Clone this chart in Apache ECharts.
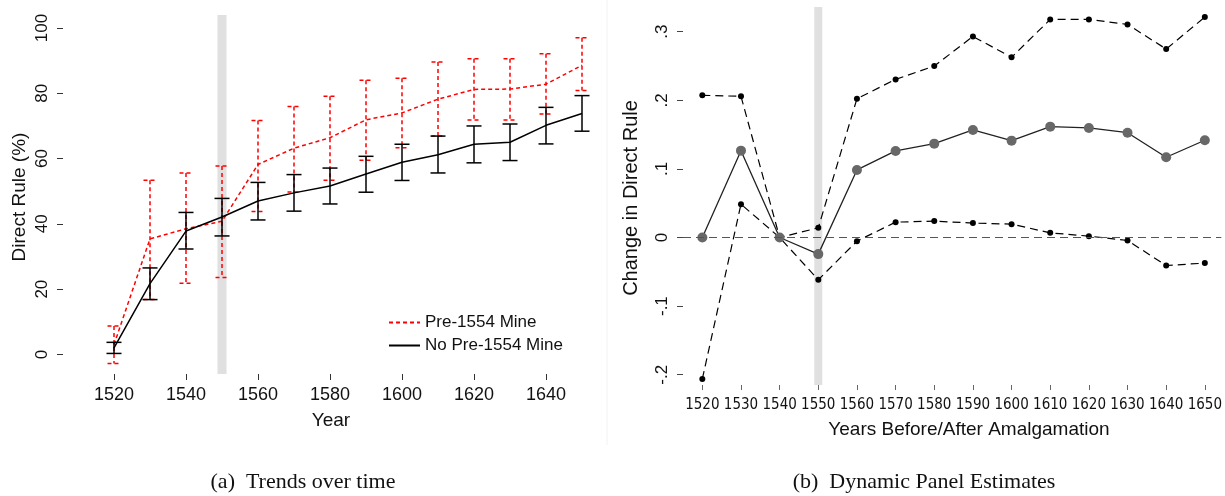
<!DOCTYPE html>
<html>
<head>
<meta charset="utf-8">
<script src="https://cdn.jsdelivr.net/npm/echarts@6/dist/echarts.min.js"></script>
<style>
  html, body { margin: 0; padding: 0; background: #fff; }
  #main { width: 1225px; height: 496px; }
</style>
</head>
<body>
<div id="main"></div>
<script>
// panel (a): trends over time
var years = [1520, 1530, 1540, 1550, 1560, 1570, 1580, 1590, 1600, 1610, 1620, 1630, 1640, 1650];
var mineMean = [3, 35.4, 38.5, 40.8, 58.2, 63.2, 66.4, 71.9, 74.0, 78.2, 81.2, 81.3, 82.8, 88.6];
var mineLow = [-2.8, 16.8, 21.8, 23.6, 43.8, 49.8, 53.4, 59.5, 63.3, 66.9, 71.8, 71.8, 73.7, 80.9];
var mineHigh = [8.7, 53.4, 55.6, 57.7, 71.7, 76.0, 79.1, 84.0, 84.6, 89.6, 90.6, 90.6, 92.1, 97.0];
var noMineMean = [2.0, 21.7, 37.8, 42.1, 47.0, 49.5, 51.6, 55.3, 58.9, 61.2, 64.4, 65.0, 70.2, 73.8];
var noMineLow = [0.3, 16.8, 32.3, 36.3, 41.2, 43.9, 46.1, 49.7, 53.3, 55.6, 58.7, 59.4, 64.5, 68.4];
var noMineHigh = [3.7, 26.5, 43.5, 47.8, 52.7, 55.1, 57.1, 60.7, 64.4, 66.9, 70.0, 70.6, 75.7, 79.3];
var leftYTicks = [0, 20, 40, 60, 80, 100];
var leftXTicks = [1520, 1540, 1560, 1580, 1600, 1620, 1640];

// panel (b): dynamic panel estimates
var estYears = [1520, 1530, 1540, 1550, 1560, 1570, 1580, 1590, 1600, 1610, 1620, 1630, 1640, 1650];
var estimate = [0, 0.1266, 0, -0.0242, 0.0985, 0.1262, 0.1368, 0.1568, 0.1412, 0.1616, 0.1597, 0.1528, 0.117, 0.1418];
var estUpper = [0.2073, 0.2058, 0, 0.0141, 0.2023, 0.2305, 0.2499, 0.2931, 0.2626, 0.3179, 0.3179, 0.3106, 0.2747, 0.3213];
var estLower = [-0.2062, 0.0486, 0, -0.0616, -0.0053, 0.0224, 0.0239, 0.021, 0.0195, 0.0068, 0.002, -0.0044, -0.0408, -0.0373];
var rightYTicks = [-0.2, -0.1, 0, 0.1, 0.2, 0.3];

var sans = "'Liberation Sans', Arial, sans-serif";
var narrow = "'Liberation Sans Narrow', 'DejaVu Sans Condensed', 'Liberation Sans', sans-serif";
var serif = "'Liberation Serif', 'DejaVu Serif', serif";

function errorBars(color, capW, dash) {
  return function (params, api) {
    var x = api.value(0);
    var top = api.coord([x, api.value(2)]);
    var bot = api.coord([x, api.value(1)]);
    var style = { stroke: color, lineWidth: 1.5, lineDash: dash, fill: null };
    var h = capW / 2;
    return {
      type: 'group',
      children: [
        { type: 'line', shape: { x1: top[0], y1: top[1], x2: bot[0], y2: bot[1] }, style: style },
        { type: 'line', shape: { x1: top[0] - h, y1: top[1], x2: top[0] + h, y2: top[1] }, style: style },
        { type: 'line', shape: { x1: bot[0] - h, y1: bot[1], x2: bot[0] + h, y2: bot[1] }, style: style }
      ]
    };
  };
}

function zip(xs, ys) {
  return xs.map(function (x, i) { return [x, ys[i]]; });
}

function plain(v) { return String(v); }

var chart = echarts.init(document.getElementById('main'));

var option = {
  animation: false,
  backgroundColor: '#fff',
  grid: [
    { left: 96, top: 15, width: 504, height: 359 },
    { left: 683, top: 7, width: 542, height: 378 }
  ],
  xAxis: [
    {
      gridIndex: 0, type: 'value', min: 1515, max: 1655,
      splitLine: { show: false },
      axisLine: { show: false, onZero: false },
      axisTick: { show: true, length: 6, customValues: leftXTicks, lineStyle: { color: '#333' } },
      axisLabel: { customValues: leftXTicks, formatter: plain, margin: 12, fontSize: 18, color: '#111', fontFamily: sans, hideOverlap: false }
    },
    {
      gridIndex: 1, type: 'value', min: 1515, max: 1654.26,
      splitLine: { show: false },
      axisLine: { show: false, onZero: false },
      axisTick: { show: true, length: 5, customValues: estYears, lineStyle: { color: '#666' } },
      axisLabel: { customValues: estYears, formatter: plain, margin: 13, fontSize: 15, color: '#111', fontFamily: narrow, hideOverlap: false }
    }
  ],
  yAxis: [
    {
      gridIndex: 0, type: 'value', min: -6, max: 104, offset: 33,
      splitLine: { show: false },
      axisLine: { show: false, onZero: false },
      axisTick: { show: true, length: 6, customValues: leftYTicks, lineStyle: { color: '#333' } },
      axisLabel: { customValues: leftYTicks, formatter: plain, rotate: 90, margin: 12, fontSize: 17, color: '#111', fontFamily: sans }
    },
    {
      gridIndex: 1, type: 'value', min: -0.215, max: 0.336,
      splitLine: { show: false },
      axisLine: { show: false, onZero: false },
      axisTick: { show: true, length: 6, customValues: rightYTicks, lineStyle: { color: '#444' } },
      axisLabel: {
        customValues: rightYTicks, rotate: 90, margin: 12, fontSize: 17, color: '#111', fontFamily: sans,
        formatter: function (v) {
          if (Math.abs(v) < 1e-9) return '0';
          return (v < 0 ? '-' : '') + '.' + Math.round(Math.abs(v) * 10);
        }
      }
    }
  ],
  legend: {
    show: true,
    orient: 'vertical', left: 383, top: 309, itemWidth: 31, itemHeight: 14, itemGap: 6,
    data: ['Pre-1554 Mine', 'No Pre-1554 Mine'],
    itemStyle: { opacity: 0 },
    textStyle: { fontSize: 17, color: '#111', fontFamily: sans }
  },
  graphic: [
    { type: 'line', shape: { x1: 607, y1: 0, x2: 607, y2: 445 }, style: { stroke: '#f2f2f2', lineWidth: 1 } },
    { type: 'text', x: 331, y: 421, style: { text: 'Year', font: '19px ' + sans, fill: '#111', align: 'center', verticalAlign: 'middle' } },
    { type: 'text', x: 20, y: 197, rotation: Math.PI / 2, style: { text: 'Direct Rule (%)', font: '19px ' + sans, fill: '#111', align: 'center', verticalAlign: 'middle' } },
    { type: 'text', x: 969, y: 430, style: { text: 'Years Before/After Amalgamation', font: '19px ' + sans, fill: '#111', align: 'center', verticalAlign: 'middle' } },
    { type: 'text', x: 631, y: 198, rotation: Math.PI / 2, style: { text: 'Change in Direct Rule', font: '20px ' + sans, fill: '#111', align: 'center', verticalAlign: 'middle' } },
    { type: 'text', x: 303, y: 482, style: { text: '(a)  Trends over time', font: '22px ' + serif, fill: '#111', align: 'center', verticalAlign: 'middle' } },
    { type: 'text', x: 924, y: 482, style: { text: '(b)  Dynamic Panel Estimates', font: '22px ' + serif, fill: '#111', align: 'center', verticalAlign: 'middle' } }
  ],
  series: [
    // gray band at 1550, left panel
    {
      name: 'band a', type: 'line', xAxisIndex: 0, yAxisIndex: 0, data: [], z: 1, silent: true,
      markArea: { silent: true, itemStyle: { color: '#e0e0e0' }, data: [[{ xAxis: 1548.75 }, { xAxis: 1551.25 }]] }
    },
    {
      name: 'Pre-1554 Mine bars', type: 'custom', xAxisIndex: 0, yAxisIndex: 0, z: 3,
      renderItem: errorBars('#ff0000', 13, [4, 3]),
      encode: { x: 0, y: [1, 2] },
      data: years.map(function (y, i) { return [y, mineLow[i], mineHigh[i]]; })
    },
    {
      name: 'Pre-1554 Mine', type: 'line', xAxisIndex: 0, yAxisIndex: 0, z: 3,
      showSymbol: false, symbol: 'none',
      itemStyle: { color: '#ff0000' },
      lineStyle: { color: '#ff0000', width: 1.5, type: [4, 3] },
      data: zip(years, mineMean)
    },
    {
      name: 'No Pre-1554 Mine bars', type: 'custom', xAxisIndex: 0, yAxisIndex: 0, z: 4,
      renderItem: errorBars('#000', 15, null),
      encode: { x: 0, y: [1, 2] },
      data: years.map(function (y, i) { return [y, noMineLow[i], noMineHigh[i]]; })
    },
    {
      name: 'No Pre-1554 Mine', type: 'line', xAxisIndex: 0, yAxisIndex: 0, z: 4,
      showSymbol: false, symbol: 'none',
      itemStyle: { color: '#000' },
      lineStyle: { color: '#000', width: 1.5 },
      data: zip(years, noMineMean)
    },
    // right panel
    {
      name: 'band b', type: 'line', xAxisIndex: 1, yAxisIndex: 1, data: [], z: 1, silent: true,
      markArea: { silent: true, itemStyle: { color: '#e0e0e0' }, data: [[{ xAxis: 1548.97 }, { xAxis: 1551.03 }]] },
      markLine: {
        silent: true, symbol: 'none', label: { show: false },
        lineStyle: { color: '#555', width: 1.2, type: [8, 5] },
        data: [{ yAxis: 0 }]
      }
    },
    {
      name: 'Upper', type: 'line', xAxisIndex: 1, yAxisIndex: 1, z: 3,
      symbol: 'circle', symbolSize: 6,
      itemStyle: { color: '#000' },
      lineStyle: { color: '#000', width: 1.2, type: [8, 5] },
      data: zip(estYears, estUpper)
    },
    {
      name: 'Lower', type: 'line', xAxisIndex: 1, yAxisIndex: 1, z: 3,
      symbol: 'circle', symbolSize: 6,
      itemStyle: { color: '#000' },
      lineStyle: { color: '#000', width: 1.2, type: [8, 5] },
      data: zip(estYears, estLower)
    },
    {
      name: 'Estimate', type: 'line', xAxisIndex: 1, yAxisIndex: 1, z: 4,
      symbol: 'circle', symbolSize: 10,
      itemStyle: { color: '#686868' },
      lineStyle: { color: '#222', width: 1.3 },
      data: zip(estYears, estimate)
    }
  ]
};

chart.setOption(option);
</script>
</body>
</html>
